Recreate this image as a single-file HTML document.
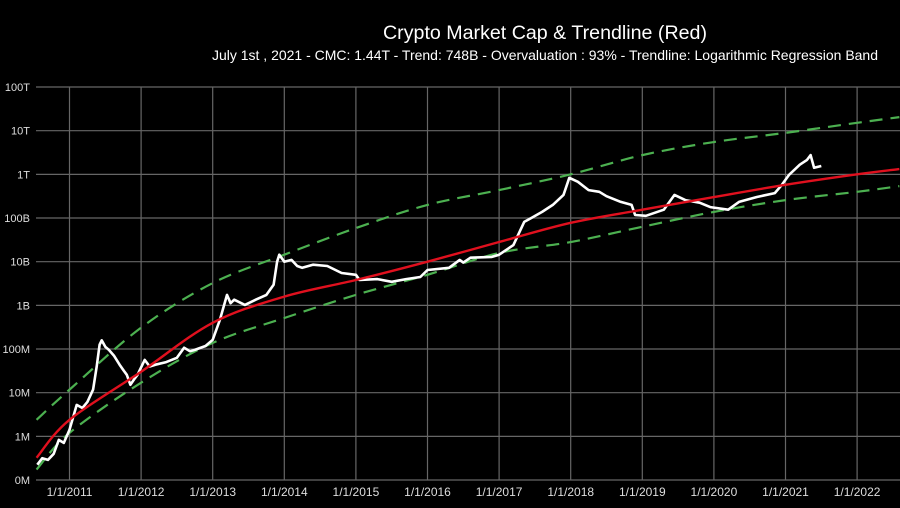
<!DOCTYPE html>
<html><head><meta charset="utf-8"><style>
html,body{margin:0;padding:0;background:#000;}
svg{display:block;font-family:"Liberation Sans",sans-serif;}
</style></head><body>
<svg id="chart" width="900" height="508" viewBox="0 0 900 508">
<rect width="900" height="508" fill="#000"/>
<text x="383" y="39" fill="#fff" font-size="19" textLength="324" lengthAdjust="spacingAndGlyphs">Crypto Market Cap &amp; Trendline (Red)</text>
<text x="212" y="60" fill="#fff" font-size="14" textLength="666" lengthAdjust="spacingAndGlyphs">July 1st , 2021 - CMC: 1.44T - Trend:  748B - Overvaluation : 93% - Trendline: Logarithmic Regression Band</text>
<g id="grid"></g>
<g id="series"></g>
</svg>
<script>
const yTickLabels=["0M","1M","10M","100M","1B","10B","100B","1T","10T","100T"];
const yTickLogs=[5,6,7,8,9,10,11,12,13,14];
const xTickYears=[2011,2012,2013,2014,2015,2016,2017,2018,2019,2020,2021,2022];
const bandYears=[2010.54,2011,2012,2013,2014,2015,2016,2017,2018,2019,2020,2021,2022,2022.59];
const trendLog=[5.51,6.38,7.48,8.6,9.2,9.58,10.0,10.45,10.89,11.19,11.48,11.76,12.0,12.12];
const upperLog=[6.38,7.07,8.49,9.51,10.16,10.77,11.3,11.64,12.0,12.44,12.74,12.95,13.18,13.31];
const lowerLog=[5.24,6.08,7.23,8.14,8.71,9.24,9.70,10.2,10.45,10.8,11.14,11.41,11.6,11.73];
const capYears=[2010.55,2010.62,2010.7,2010.78,2010.85,2010.92,2011.0,2011.1,2011.18,2011.25,2011.33,2011.38,2011.42,2011.45,2011.5,2011.55,2011.62,2011.7,2011.76,2011.8,2011.85,2011.9,2011.95,2012.05,2012.12,2012.2,2012.35,2012.5,2012.6,2012.68,2012.75,2012.9,2013.0,2013.1,2013.2,2013.25,2013.3,2013.45,2013.6,2013.75,2013.85,2013.9,2013.93,2014.0,2014.1,2014.18,2014.25,2014.4,2014.6,2014.8,2015.0,2015.05,2015.3,2015.5,2015.7,2015.9,2016.0,2016.3,2016.45,2016.5,2016.6,2016.9,2017.0,2017.2,2017.35,2017.45,2017.6,2017.75,2017.9,2017.98,2018.1,2018.25,2018.4,2018.5,2018.7,2018.85,2018.9,2019.05,2019.3,2019.45,2019.6,2019.8,2019.95,2020.2,2020.35,2020.6,2020.85,2020.95,2021.05,2021.2,2021.3,2021.35,2021.4,2021.5];
const capLog=[5.35,5.5,5.46,5.6,5.92,5.85,6.15,6.72,6.65,6.79,7.07,7.6,8.1,8.2,8.05,7.98,7.85,7.64,7.5,7.41,7.18,7.3,7.41,7.75,7.6,7.64,7.7,7.8,8.03,7.95,7.98,8.07,8.21,8.67,9.24,9.05,9.13,9.01,9.13,9.24,9.47,10.0,10.16,10.0,10.04,9.9,9.86,9.93,9.9,9.74,9.7,9.58,9.6,9.54,9.6,9.65,9.81,9.86,10.04,9.98,10.09,10.11,10.16,10.38,10.91,11.0,11.14,11.3,11.53,11.92,11.83,11.64,11.6,11.5,11.37,11.3,11.07,11.05,11.19,11.53,11.41,11.35,11.25,11.19,11.37,11.48,11.57,11.76,11.99,12.22,12.33,12.44,12.15,12.19];

const NS="http://www.w3.org/2000/svg";
const X0=36,X1=900,Y0=87,Y1=480;
function xs(t){return 69.5+(t-2011)*71.6;}
function ys(l){return Y0+(14-l)*43.67;}
const grid=document.getElementById('grid'),series=document.getElementById('series');
function mk(tag,attrs,parent){const e=document.createElementNS(NS,tag);for(const k in attrs)e.setAttribute(k,attrs[k]);parent.appendChild(e);return e;}
yTickLogs.forEach((l,i)=>{
  const y=ys(l);
  const g=mk('line',{x1:X0,x2:X1,y1:y,y2:y,stroke:'#666','stroke-width':1.2},grid);
  
  
  const t=mk('text',{x:30,y:y+4,fill:'#ddd','font-size':11,'text-anchor':'end'},grid);
  t.textContent=yTickLabels[i];
  
  
});
xTickYears.forEach(yr=>{
  const x=xs(yr);
  const g=mk('line',{x1:x,x2:x,y1:Y0,y2:Y1,stroke:'#666','stroke-width':1.2},grid);
  
  
  const t=mk('text',{x:x,y:496,fill:'#ddd','font-size':12,'text-anchor':'middle'},grid);
  t.textContent='1/1/'+yr;
  
  
});
function pathOf(xsArr,lsArr){return xsArr.map((t,i)=>(i?'L':'M')+xs(t).toFixed(1)+','+ys(lsArr[i]).toFixed(1)).join(' ');}
function smoothOf(xsArr,lsArr){
  const p=xsArr.map((t,i)=>[xs(t),ys(lsArr[i])]);
  let d='M'+p[0][0]+','+p[0][1];
  for(let i=0;i<p.length-1;i++){
    const p0=p[Math.max(0,i-1)],p1=p[i],p2=p[i+1],p3=p[Math.min(p.length-1,i+2)];
    d+=' C'+(p1[0]+(p2[0]-p0[0])/6)+','+(p1[1]+(p2[1]-p0[1])/6)+' '+(p2[0]-(p3[0]-p1[0])/6)+','+(p2[1]-(p3[1]-p1[1])/6)+' '+p2[0]+','+p2[1];
  }
  return d;
}
const up=mk('path',{d:smoothOf(bandYears,upperLog),fill:'none',stroke:'#4cb050','stroke-width':2.2,'stroke-dasharray':'13,8'},series);


const lo=mk('path',{d:smoothOf(bandYears,lowerLog),fill:'none',stroke:'#4cb050','stroke-width':2.2,'stroke-dasharray':'13,8'},series);


const cap=mk('path',{d:pathOf(capYears,capLog),fill:'none',stroke:'#fff','stroke-width':2.6,'stroke-linejoin':'round'},series);


const tr=mk('path',{d:smoothOf(bandYears,trendLog),fill:'none',stroke:'#e0101e','stroke-width':2.4},series);


</script>
</body></html>
